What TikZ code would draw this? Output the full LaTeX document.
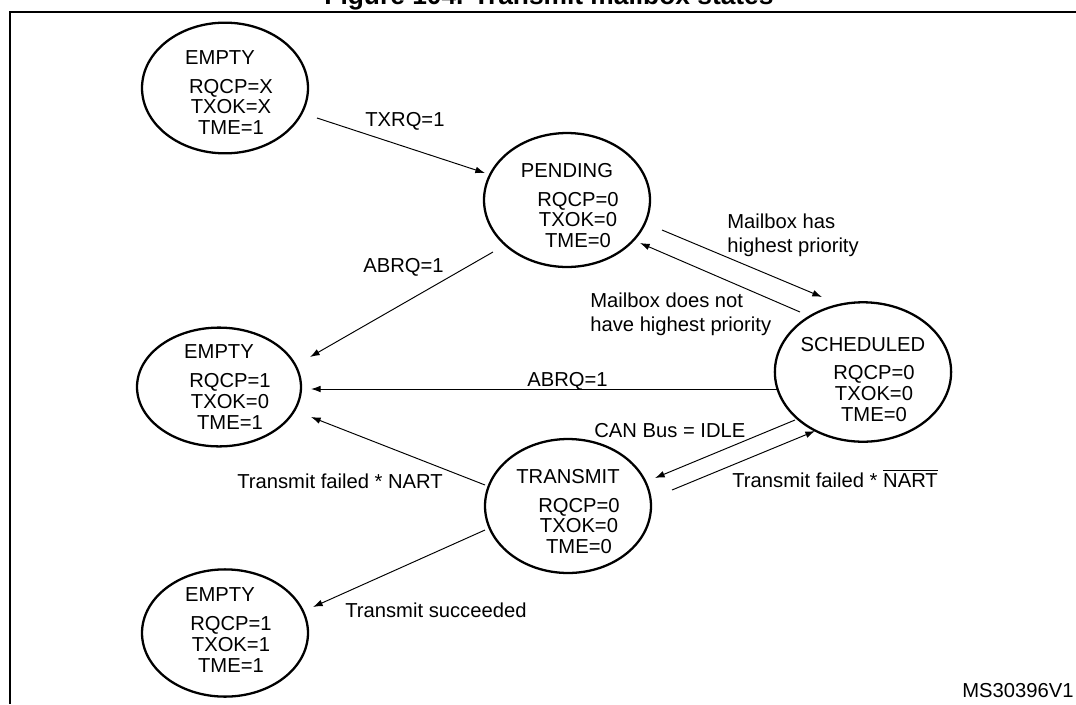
\documentclass[tikz,border=0pt]{standalone}
\usepackage{fontspec}
\setmainfont{Liberation Sans}
\usetikzlibrary{arrows.meta, shapes.geometric}

% state text: name line, then the three flags a little to the right
\newcommand{\mbstate}[5][0pt]{%
  \hspace*{#1}#2\\[4.8pt]%
  \hspace*{\dimexpr#1+12.5pt\relax}#3\\%
  \hspace*{\dimexpr#1+12.5pt\relax}#4\\%
  \hspace*{\dimexpr#1+12.5pt\relax}#5}
% taller first line pushes the state text down in its ellipse
\newcommand{\stdrop}[1]{\rule{0pt}{#1}}

\tikzset{
  mstate/.style 2 args={
    ellipse, draw, line width=1.3pt,
    minimum width=#1, minimum height=#2,
    inner sep=0pt, align=center,
    font=\fontsize{11.5}{11.7}\selectfont,
  },
  lbl/.style={font=\fontsize{11.5}{13.6}\selectfont, inner sep=0pt,
    anchor=base west, align=left},
  arr/.style={
    -{Latex[length=5.5pt,width=3.8pt]},
    line width=0.55pt,
  },
}

\begin{document}
\begin{tikzpicture}[x=0.02cm, y=-0.02cm]
\useasboundingbox (0,0) rectangle (1076,704);
\clip (0,0) rectangle (1076,704);

%% ── title and frame ───────────────────────────────────────
\node[font=\fontsize{15}{18}\selectfont\bfseries, anchor=base,
      inner sep=0pt] (title) at (549,4) {Figure 104. Transmit mailbox states};
\draw[line width=1.1pt] (9,12) -- (1076,12);
\draw[line width=1.1pt] (10,11) -- (10,704);

%% ── states ────────────────────────────────────────────────
\node[mstate={3.32cm}{2.4cm}]  (emptyA)    at (225,88)  {\mbstate[-5.7pt]{\stdrop{12.7pt}EMPTY}{RQCP=X}{TXOK=X}{TME=1}};
\node[mstate={3.32cm}{2.32cm}] (pending)   at (567,200) {\mbstate{\stdrop{13.9pt}PENDING}{RQCP=0}{TXOK=0}{TME=0}};
\node[mstate={3.28cm}{2.32cm}] (emptyB)    at (219,387) {\mbstate{EMPTY}{RQCP=1}{TXOK=0}{TME=1}};
\node[mstate={3.28cm}{2.32cm}] (scheduled) at (863,372) {\mbstate{\stdrop{16.1pt}SCHEDULED}{RQCP=0}{TXOK=0}{TME=0}};
\node[mstate={3.32cm}{2.48cm}] (transmit)  at (568,506) {\mbstate{\stdrop{13.9pt}TRANSMIT}{RQCP=0}{TXOK=0}{TME=0}};
\node[mstate={3.32cm}{2.48cm}, text depth=3.4pt] (emptyC) at (225,633) {\mbstate[-5.7pt]{EMPTY}{RQCP=1}{TXOK=1}{TME=1}};

%% ── transitions ───────────────────────────────────────────
\draw[arr] ([shift={(92,30)}]emptyA.center)     -- ([shift={(-82,-27)}]pending.center);
\draw[arr] ([shift={(-74,52)}]pending.center)   -- ([shift={(91,-30)}]emptyB.center);
\draw[arr] ([shift={(95,30)}]pending.center)    -- ([shift={(-41,-75)}]scheduled.center);
\draw[arr] ([shift={(-63,-60)}]scheduled.center) -- ([shift={(73,43)}]pending.center);
\draw[arr] ([shift={(-86,17)}]scheduled.center) -- ([shift={(92,2)}]emptyB.center);
\draw[arr] ([shift={(-68,48)}]scheduled.center) -- ([shift={(87,-28)}]transmit.center);
\draw[arr] ([shift={(104,-16)}]transmit.center) -- ([shift={(-48,59)}]scheduled.center);
\draw[arr] ([shift={(-83,-21)}]transmit.center) -- ([shift={(92,30)}]emptyB.center);
\draw[arr] ([shift={(-83,24)}]transmit.center)  -- ([shift={(88,-26)}]emptyC.center);

%% ── labels ────────────────────────────────────────────────
\node[lbl] (txrq)     at (365,126) {TXRQ=1};
\node[lbl] (abrqup)   at (363,272) {ABRQ=1};
\node[lbl] (hasprio)  at (727,252) {Mailbox has\\highest priority};
\node[lbl] (notprio)  at (590,331) {Mailbox does not\\have highest priority};
\node[lbl] (abrqmid)  at (527,386) {ABRQ=1};
\node[lbl] (canidle)  at (594,437) {CAN Bus = IDLE};
\node[lbl] (failnart) at (237,488) {Transmit failed * NART};
\node[lbl] (failbar)  at (732,487) {Transmit failed * \(\overline{\mbox{NART}}\)};
\node[lbl] (txdone)   at (345,617) {Transmit succeeded};
\node[lbl] (docid)    at (962,697) {MS30396V1};

\end{tikzpicture}
\end{document}
